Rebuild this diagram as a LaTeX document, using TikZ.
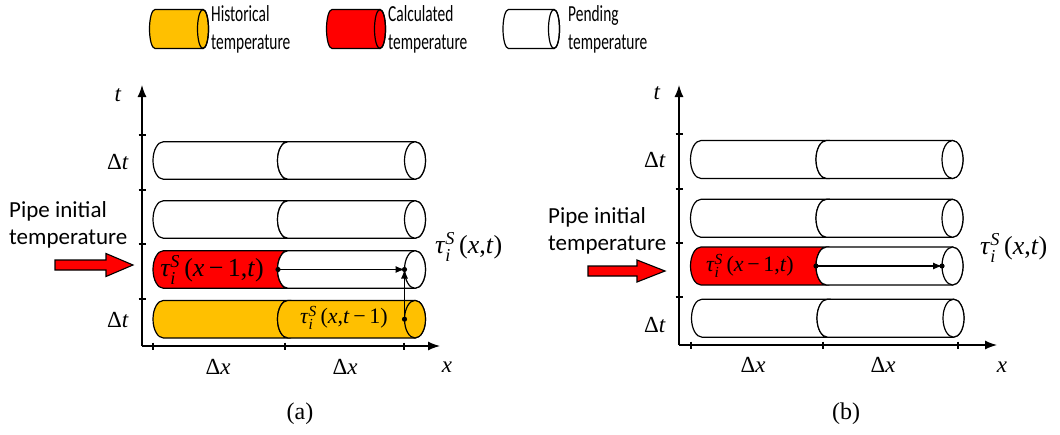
\documentclass[tikz,border=0pt]{standalone}
\usepackage{fontspec}
\usepackage{amsmath}
\setmainfont{Liberation Serif}
\newfontfamily\calfont{Carlito}
\newfontfamily\legfont[FakeStretch=0.67]{Carlito}
\usetikzlibrary{arrows.meta}
\definecolor{histc}{HTML}{FFC000}
\definecolor{calcc}{HTML}{FF0000}
\newcommand{\tauSi}{\textit{τ}$_{\text{\itshape i}}^{\text{\itshape S}}$\,}
\newcommand{\drawpipe}[8]{%
\filldraw[pipeline,fill=#7] (#1,#4-#5) -- (#2,#4-#5) arc[start angle=-90,end angle=-270,x radius=#6,y radius=#5] -- (#1,#4+#5) arc[start angle=90,end angle=270,x radius=#6,y radius=#5] -- cycle;
\filldraw[pipeline,fill=#8] (#2,#4-#5) -- (#3,#4-#5) arc[start angle=-90,end angle=90,x radius=#6,y radius=#5] -- (#2,#4+#5) arc[start angle=90,end angle=270,x radius=#6,y radius=#5] -- cycle;
\filldraw[pipeline,fill=#8] (#3,#4) ellipse[x radius=#6,y radius=#5];
}
\newcommand{\legpipe}[5]{%
\filldraw[pipeline,fill=#5] (#1,#3-#4) -- (#2,#3-#4) arc[start angle=-90,end angle=90,x radius=5.5,y radius=#4] -- (#1,#3+#4) arc[start angle=90,end angle=270,x radius=5.5,y radius=#4] -- cycle;
\draw[pipeline] (#2,#3) ellipse[x radius=5.5,y radius=#4];
}
\tikzset{
  pipeline/.style={line width=1.2pt, draw=black},
  axisline/.style={line width=1.3pt, -{Latex[length=12pt,width=9pt]}},
  tickline/.style={line width=1.2pt},
  conn/.style={line width=1.1pt, -{Latex[length=9pt,width=7pt]}},
  dotc/.style={fill=black},
  lab/.style={font=\fontsize{23}{27}\selectfont, inner sep=0pt},
  biglab/.style={font=\fontsize{26}{30}\selectfont, inner sep=0pt},
  smalllab/.style={font=\fontsize{22}{26}\selectfont, inner sep=0pt},
  caplab/.style={font=\fontsize{24}{28}\selectfont, inner sep=0pt},
  sidetext/.style={font=\calfont\fontsize{23}{27}\selectfont, align=left, anchor=west, inner sep=0pt},
  legtext/.style={font=\legfont\fontsize{23}{28}\selectfont, align=left, anchor=west, inner sep=0pt},
  redarrow/.style={fill=calcc, draw=black, line width=1.1pt, line join=miter},
}
\begin{document}
\begin{tikzpicture}[x=1pt,y=-1pt]
\useasboundingbox (0,0) rectangle (1060,434);

% ---------- legend ----------
\legpipe{155}{203}{29}{19.5}{histc}
\node[legtext] (lh) at (211,29) {Historical\\temperature};
\legpipe{332}{380}{29}{19.5}{calcc}
\node[legtext] (lc) at (388,29) {Calculated\\temperature};
\legpipe{508.5}{554}{29}{19.5}{white}
\node[legtext] (lp) at (568,29) {Pending\\temperature};

% ---------- panel (a) ----------
\drawpipe{163.5}{288}{415}{160.5}{18.8}{10.5}{white}{white}
\drawpipe{163.5}{288}{415}{219.5}{18.8}{10.5}{white}{white}
\drawpipe{163.5}{288}{415}{269.5}{18.8}{10.5}{calcc}{white}
\drawpipe{163.5}{288}{415}{319.2}{18.8}{10.5}{histc}{histc}

\coordinate (oa) at (142,346);
\coordinate (ta) at (142,85);
\coordinate (xa) at (440,346);
\draw[axisline] (oa) -- (ta);
\draw[axisline] (oa) -- (xa);
\foreach \yy in {135,190,244,299} \draw[tickline] (138.5,\yy) -- (145.5,\yy);
\foreach \xx in {153,285,404} \draw[tickline] (\xx,342.5) -- (\xx,349.5);

\node[lab] (tA) at (118,95) {\textit{t}};
\node[lab] (dt1A) at (118,162) {Δ\textit{t}};
\node[lab] (dt2A) at (118,320) {Δ\textit{t}};
\node[lab] (dx1A) at (218,367) {Δ\textit{x}};
\node[lab] (dx2A) at (345,367) {Δ\textit{x}};
\node[lab] (xA) at (447,367) {\textit{x}};

\node[biglab] (r1A) at (212,270) {\tauSi(\textit{x}\,−\,1,\textit{t})};
\node[smalllab] (y1A) at (344,318) {\tauSi(\textit{x},\textit{t}\,−\,1)};
\node[biglab, anchor=west] (rtA) at (435,247) {\tauSi(\textit{x},\textit{t})};

\coordinate (a1) at (278,269.5);
\coordinate (a2) at (404.5,269.5);
\coordinate (a3) at (404.5,319.2);
\draw[conn] (a1) -- (a2);
\draw[conn] (a3) -- (a2);
\fill[dotc] (a1) circle[radius=2.6];
\fill[dotc] (a2) circle[radius=2.6];
\fill[dotc] (a3) circle[radius=2.6];

\node[sidetext] (piA) at (9,225) {Pipe initial\\temperature};
\filldraw[redarrow] (55,260) -- (106,260) -- (106,253.5) -- (133,265) -- (106,276.5) -- (106,270) -- (55,270) -- cycle;

\node[caplab] (capA) at (300,414) {(a)};

% ---------- panel (b) ----------
\drawpipe{701}{826.5}{952.5}{159.5}{19}{10.5}{white}{white}
\drawpipe{701}{826.5}{952.5}{218.3}{19}{10.5}{white}{white}
\drawpipe{701}{826.5}{952.5}{266}{19}{10.5}{calcc}{white}
\drawpipe{702}{827.5}{953.5}{318.2}{19}{10.5}{white}{white}

\coordinate (ob) at (679,345);
\coordinate (tb) at (679,85);
\coordinate (xb) at (997,345);
\draw[axisline] (ob) -- (tb);
\draw[axisline] (ob) -- (xb);
\foreach \yy in {134,189,243,297} \draw[tickline] (675.5,\yy) -- (682.5,\yy);
\foreach \xx in {691,823,958} \draw[tickline] (\xx,341.5) -- (\xx,348.5);

\node[lab] (tB) at (657,93) {\textit{t}};
\node[lab] (dt1B) at (655,160) {Δ\textit{t}};
\node[lab] (dt2B) at (655,325) {Δ\textit{t}};
\node[lab] (dx1B) at (753,365) {Δ\textit{x}};
\node[lab] (dx2B) at (883,365) {Δ\textit{x}};
\node[lab] (xB) at (1002,367) {\textit{x}};

\node[smalllab] (r1B) at (750,266) {\tauSi(\textit{x}\,−\,1,\textit{t})};
\node[biglab, anchor=west] (rtB) at (980,248) {\tauSi(\textit{x},\textit{t})};

\coordinate (b1) at (816,266);
\coordinate (b2) at (942,266);
\draw[conn] (b1) -- (b2);
\fill[dotc] (b1) circle[radius=2.6];
\fill[dotc] (b2) circle[radius=2.6];

\node[sidetext] (piB) at (548,231) {Pipe initial\\temperature};
\filldraw[redarrow] (588,266) -- (637,266) -- (637,260) -- (665,271) -- (637,282) -- (637,276) -- (588,276) -- cycle;

\node[caplab] (capB) at (846,414) {(b)};
\end{tikzpicture}
\end{document}
